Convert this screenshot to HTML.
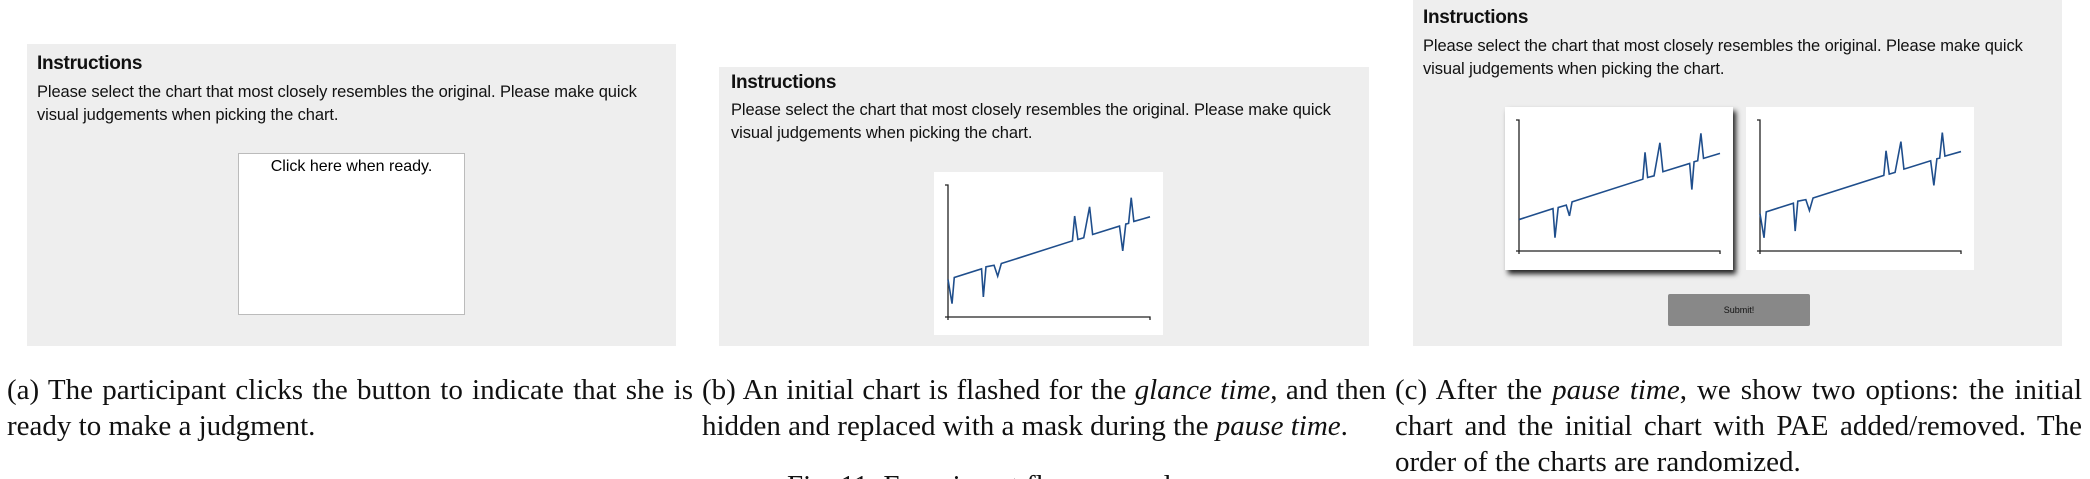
<!DOCTYPE html>
<html style="overflow:hidden;height:479px;"><head><meta charset="utf-8">
<style>
html,body{margin:0;width:2090px;height:479px;overflow:hidden;}
body{background:#fff;font-family:"Liberation Sans",sans-serif;}
#root{position:relative;width:2090px;height:479px;overflow:hidden;}
.abs{position:absolute;}
.panel{position:absolute;background:#eeeeee;}
.h{position:absolute;font-weight:bold;font-size:19px;color:#111;white-space:nowrap;letter-spacing:-0.3px;}
.t{position:absolute;font-size:16.5px;color:#111;white-space:nowrap;line-height:23px;letter-spacing:-0.1px;}
.cap{position:absolute;font-family:"Liberation Serif",serif;font-size:29px;color:#111;line-height:36px;}
.cap div{text-align:justify;text-align-last:justify;white-space:nowrap;}
.cap div.last{text-align-last:left;}
</style></head><body>
<div id="root">

<div class="panel" style="left:27px;top:44px;width:649px;height:302px;">
  <div class="h" style="left:10px;top:9px;">Instructions</div>
  <div class="t" style="left:10px;top:37px;">Please select the chart that most closely resembles the original. Please make quick<br>visual judgements when picking the chart.</div>
  <div class="abs" style="left:211px;top:109px;width:225px;height:160px;background:#fff;border:1px solid #bbb;text-align:center;font-size:16px;line-height:26px;">Click here when ready.</div>
</div>

<div class="panel" style="left:719px;top:67px;width:650px;height:279px;">
  <div class="h" style="left:12px;top:5px;">Instructions</div>
  <div class="t" style="left:12px;top:32px;">Please select the chart that most closely resembles the original. Please make quick<br>visual judgements when picking the chart.</div>
  <svg id="chartB" class="abs" style="left:215px;top:105px;" width="229" height="163"></svg>
</div>

<div class="panel" style="left:1413px;top:0px;width:649px;height:346px;">
  <div class="h" style="left:10px;top:7px;">Instructions</div>
  <div class="t" style="left:10px;top:35px;">Please select the chart that most closely resembles the original. Please make quick<br>visual judgements when picking the chart.</div>
  <svg id="chartC1" class="abs" style="left:92px;top:107px;box-shadow:3px 4px 5px #222;" width="228" height="163"></svg>
  <svg id="chartC2" class="abs" style="left:333px;top:107px;" width="228" height="163"></svg>
  <div class="abs" style="left:255px;top:294px;width:142px;height:32px;background:#888;border-radius:2px;text-align:center;line-height:32px;font-size:9px;color:#111;">Submit!</div>
</div>

<div class="cap" style="left:7px;top:372px;width:686px;">
  <div>(a) The participant clicks the button to indicate that she is</div>
  <div class="last">ready to make a judgment.</div>
</div>
<div class="cap" style="left:702px;top:372px;width:684px;">
  <div>(b) An initial chart is flashed for the <i>glance time</i>, and then</div>
  <div class="last">hidden and replaced with a mask during the <i>pause time</i>.</div>
</div>
<div class="cap" style="left:1395px;top:372px;width:687px;">
  <div>(c) After the <i>pause time</i>, we show two options: the initial</div>
  <div>chart and the initial chart with PAE added/removed. The</div>
  <div class="last">order of the charts are randomized.</div>
</div>
<div class="cap" style="left:787px;top:468px;white-space:nowrap;">Fig. 11: Experiment flow example.</div>
</div>

<script>
// series with PAE (charts b and c2)
const xsA = [0,2.0,3.1,16.6,17.5,18.8,22.8,24.6,26.4,61.6,62.7,64.3,67.2,70.1,71.6,84.9,86.5,88.0,89.4,90.7,92.0,100];
const ysA = [28.4,10.1,29.9,36.5,15.2,38.0,39.2,30.9,40.5,57.7,76.5,58.7,60.0,83.5,62.5,68.9,50.1,70.4,70.9,90.4,72.4,75.9];
// series with PAE removed at start (chart c1)
const xsB = [0,16.9,17.9,19.5,23.5,25.1,26.4,61.6,62.7,64.0,67.2,70.1,71.6,84.9,86.0,87.1,88.9,90.5,91.8,100];
const ysB = [24.0,32.4,10.2,33.2,35.0,26.8,37.5,54.8,75.3,56.1,57.4,82.6,60.5,66.8,46.9,68.1,68.9,89.8,70.7,74.5];
const NS='http://www.w3.org/2000/svg';
function draw(id, xs, ys, ax){
  const svg=document.getElementById(id);
  const rect=document.createElementNS(NS,'rect');
  
  
  rect.setAttribute('width','100%');rect.setAttribute('height','100%');rect.setAttribute('fill','#fff');
  svg.appendChild(rect);
  const X=v=>ax.x0+v/100*(ax.x1-ax.x0), Y=v=>ax.y0-v/100*(ax.y0-ax.y1);
  const axes=document.createElementNS(NS,'path');
  
  
  axes.setAttribute('d',`M${ax.x0-3},${ax.y1}H${ax.x0}V${ax.y0+3}M${ax.x0-3},${ax.y0}H${ax.x1}V${ax.y0+3}`);
  axes.setAttribute('stroke','#222');axes.setAttribute('stroke-width','1.3');axes.setAttribute('fill','none');
  svg.appendChild(axes);
  const line=document.createElementNS(NS,'polyline');
  
  
  line.setAttribute('points',xs.map((x,i)=>X(x)+','+Y(ys[i])).join(' '));
  line.setAttribute('stroke','#1f4e8c');line.setAttribute('stroke-width','1.6');line.setAttribute('fill','none');
  svg.appendChild(line);
}
draw('chartB',xsA,ysA,{x0:14,x1:216,y0:145,y1:13});
draw('chartC1',xsB,ysB,{x0:14,x1:215,y0:144,y1:13});
draw('chartC2',xsA,ysA,{x0:14,x1:215,y0:144,y1:13});
</script>
</body></html>
